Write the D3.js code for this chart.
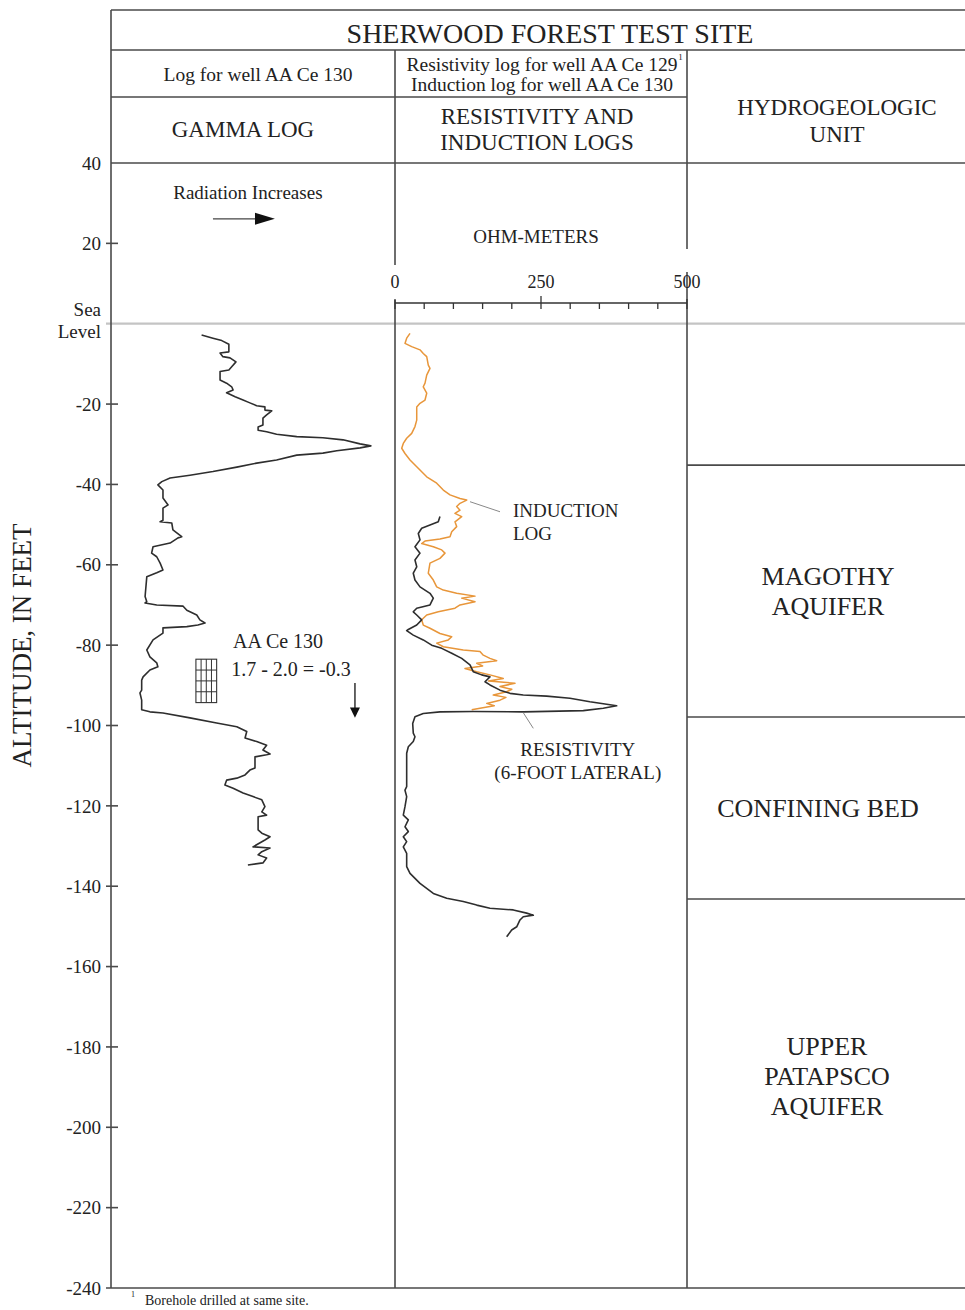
<!DOCTYPE html>
<html><head><meta charset="utf-8">
<script src="https://cdn.jsdelivr.net/npm/d3@7"></script>
<style>
body{margin:0;background:#fff}
svg{display:block}
text{font-family:"Liberation Serif","Times New Roman",serif;fill:#222}
</style>
</head><body>
<svg id="chart" width="965" height="1310"></svg>
<script>
// ---------------- DATA ----------------
const altTicks = [20,0,-20,-40,-60,-80,-100,-120,-140,-160,-180,-200,-220,-240];
const altTickLabels = ["20","Sea Level","-20","-40","-60","-80","-100","-120","-140","-160","-180","-200","-220","-240"];
const resTicks = [0,50,100,150,200,250,300,350,400,450,500];
const resTickLabels = [0,250,500];

// gamma log: [altitude (ft), relative radiation (0-100)]
const gammaAlt = [-2.8,-3.6,-4.2,-5.1,-7.0,-7.3,-8.2,-8.5,-9.5,-10.7,-11.5,-11.9,-14.0,-14.8,-15.7,-16.5,-17.2,-18.2,-19.0,-19.7,-20.4,-20.7,-21.5,-21.7,-22.7,-23.5,-25.2,-25.7,-26.5,-26.9,-27.5,-28.1,-28.4,-28.9,-29.9,-30.4,-30.9,-31.6,-32.2,-32.7,-33.9,-34.7,-35.7,-36.8,-37.7,-38.4,-39.3,-40.1,-41.4,-43.4,-45.1,-45.9,-48.9,-49.3,-49.6,-51.3,-53.0,-53.3,-54.6,-55.5,-57.1,-58.0,-59.6,-61.3,-62.0,-63.0,-67.9,-69.2,-69.5,-70.0,-70.3,-71.3,-72.5,-73.7,-74.5,-75.0,-75.4,-75.7,-77.0,-78.7,-81.2,-82.9,-84.4,-85.4,-86.2,-87.9,-88.7,-91.2,-91.9,-93.7,-96.1,-96.6,-96.9,-98.1,-99.4,-100.3,-101.5,-103.1,-104.0,-104.9,-106.1,-107.1,-107.3,-107.8,-110.6,-111.1,-112.3,-113.1,-113.6,-114.8,-115.6,-116.8,-117.7,-118.5,-120.2,-121.5,-122.3,-122.7,-126.0,-126.8,-127.7,-128.5,-130.2,-130.5,-131.4,-132.2,-133.0,-134.2,-134.7];
const gammaVal = [31.9,35.9,39.0,41.5,41.5,38.4,39.4,41.9,44.0,42.5,41.5,38.4,38.4,40.7,42.5,43.0,40.7,43.7,46.5,48.9,51.3,54.2,54.2,56.6,54.8,53.5,53.5,51.8,51.8,54.8,58.3,65.4,74.6,81.7,87.7,91.5,87.7,79.5,74.6,65.4,58.3,51.3,44.3,35.9,27.8,20.8,17.9,16.5,18.3,18.3,20.1,18.3,18.3,17.3,21.4,21.8,24.9,23.6,20.8,14.8,14.3,16.1,17.3,18.3,16.1,12.6,12.0,12.6,12.0,16.1,25.4,26.7,30.2,31.3,33.1,30.6,26.7,18.3,18.3,14.8,12.6,13.7,16.1,16.5,13.7,11.3,10.8,10.8,10.2,10.8,10.8,13.7,18.3,27.8,37.2,44.3,47.8,47.2,51.3,54.8,53.5,56.0,54.8,50.7,50.7,48.9,47.2,44.3,40.7,40.1,43.0,46.5,50.0,53.1,54.2,53.1,54.8,51.8,51.8,53.1,56.0,54.2,50.0,56.0,53.1,51.8,54.8,53.5,48.2];

// induction log (well AA Ce 130): altitude (ft), ohm-meters
const inductionAlt = [-2.4,-3.6,-4.9,-5.7,-6.5,-7.4,-8.2,-10.3,-11.1,-12.8,-14.8,-15.7,-17.3,-19.0,-19.8,-20.7,-24.0,-25.6,-27.3,-28.5,-29.8,-31.0,-32.3,-33.9,-35.6,-38.1,-39.7,-41.4,-42.6,-43.5,-43.9,-44.7,-45.5,-46.4,-47.2,-48.0,-49.3,-50.5,-51.8,-53.0,-53.6,-54.1,-54.7,-55.5,-56.3,-57.1,-58.4,-59.6,-62.1,-63.8,-65.5,-66.3,-67.1,-67.8,-68.3,-69.2,-70.0,-70.8,-71.7,-72.5,-73.7,-75.0,-75.8,-77.1,-77.9,-78.7,-79.5,-80.4,-81.2,-81.6,-82.5,-83.3,-83.9,-84.5,-85.2,-85.8,-86.6,-87.4,-88.3,-88.9,-89.5,-90.3,-91.0,-91.6,-92.4,-93.0,-93.7,-94.5,-95.1,-95.7,-96.1];
const inductionVal = [25.7,20.0,17.1,28.6,42.8,48.4,54.3,57.0,59.9,54.3,51.4,48.4,54.3,51.4,42.8,37.2,37.2,34.2,28.6,20.0,14.2,11.5,17.1,25.7,37.2,54.3,71.4,82.7,94.2,111.3,122.8,111.3,105.6,111.3,102.7,114.2,102.7,105.6,97.1,94.2,77.0,51.4,45.7,65.6,80.0,85.6,77.0,59.9,57.0,65.6,71.4,82.7,105.6,137.0,114.2,137.0,111.3,102.7,74.1,54.3,45.7,48.4,59.9,77.0,97.1,91.2,71.4,82.7,116.9,145.5,151.2,162.6,174.1,139.9,150.0,119.8,139.9,162.6,185.4,160.0,205.4,179.8,200.0,191.2,168.3,190.0,179.8,157.0,170.0,145.5,131.3];

// resistivity log, 6-foot lateral (well AA Ce 129): altitude (ft), ohm-meters
const resistivityAlt = [-48.0,-49.3,-50.1,-50.9,-52.2,-53.8,-55.5,-57.1,-58.8,-60.5,-62.1,-63.8,-65.5,-67.1,-68.3,-70.0,-70.8,-71.7,-72.5,-73.7,-75.0,-76.1,-76.4,-77.5,-78.7,-80.0,-80.8,-82.0,-83.3,-84.9,-86.6,-87.4,-87.9,-89.1,-89.9,-91.2,-92.0,-92.4,-92.7,-93.2,-94.1,-94.7,-95.1,-95.7,-96.3,-96.6,-96.5,-96.6,-97.0,-97.8,-99.5,-101.9,-102.8,-104.0,-105.3,-106.9,-115.2,-116.1,-117.7,-120.2,-122.3,-123.5,-125.2,-126.4,-127.7,-128.9,-130.2,-131.8,-135.1,-136.8,-139.3,-141.8,-143.0,-143.8,-144.7,-145.5,-145.9,-146.7,-147.2,-147.6,-148.4,-150.1,-150.9,-152.6];
const resistivityVal = [77.0,74.1,59.9,45.7,39.9,42.8,34.2,42.8,34.2,37.2,31.3,34.2,42.8,59.9,65.6,59.9,37.2,31.3,37.2,45.7,37.2,22.8,20.0,31.3,48.4,62.8,80.0,97.1,114.2,128.4,134.0,148.4,162.6,154.1,162.6,179.8,196.9,219.6,259.7,299.6,333.8,362.4,379.6,356.6,322.4,219.6,134.0,77.0,48.4,34.2,30.3,31.3,34.2,31.3,22.8,20.0,20.0,17.1,20.0,17.1,14.2,22.8,17.1,22.8,14.2,20.0,14.2,20.0,20.0,25.7,42.8,65.6,88.5,116.9,139.9,162.6,202.5,225.5,236.8,219.6,214.0,208.4,199.8,191.2];

// hydrogeologic units
const unitTop = [0,-35.2,-97.9,-143.2];
const unitBottom = [-35.2,-97.9,-143.2,-240];
const unitNames = [[],["MAGOTHY","AQUIFER"],["CONFINING BED"],["UPPER","PATAPSCO","AQUIFER"]];
const unitLabelAlt = [null,-66.5,-120.5,-187.3];

// ---------------- LAYOUT ----------------
const svg = d3.select("#chart");
const L = 111, M1 = 395, M2 = 687, R = 965;
const TOP = 10, ROW1 = 50, ROW2 = 97;
const lineCol = "#4a4a4a";
const unitLabelX = [null, 828, 818, 827];

const y = d3.scaleLinear().domain([40,-240]).range([163,1288]);
const gx = d3.scaleLinear().domain([0,100]).range([L,M1]);
const rx = d3.scaleLinear().domain([0,500]).range([M1,M2]);

function hline(x1,x2,yy,col,w){svg.append("line").attr("x1",x1).attr("x2",x2).attr("y1",yy).attr("y2",yy).attr("stroke",col||lineCol).attr("stroke-width",w||1.6);}
function vline(xx,y1,y2,col,w){svg.append("line").attr("x1",xx).attr("x2",xx).attr("y1",y1).attr("y2",y2).attr("stroke",col||lineCol).attr("stroke-width",w||1.6);}
function txt(x,yy,s,size,anchor){return svg.append("text").attr("x",x).attr("y",yy).attr("font-size",size).attr("text-anchor",anchor||"middle").text(s);}

// sea level line (gray)
hline(L-5, R, y(0), "#c4c4c4", 2.2);

// frame
hline(L, R, TOP);
hline(L, R, ROW1);
hline(L, M2, ROW2);
hline(L, R, y(40));
vline(L, TOP, y(-240));
vline(M1, ROW1, 265);
vline(M1, 300, y(-240));
vline(M2, ROW1, 249);
vline(M2, 272, y(-240));
hline(L-5, R, y(-240));

// unit boundaries
unitTop.slice(1).forEach(a => hline(M2, R, y(a)));

// altitude axis ticks + labels
altTicks.forEach((t,i) => {
  if (t !== 0 && t !== -240) hline(L-5, L+7, y(t));
  if (t === 0) {
    txt(101, y(0)-8, "Sea", 19, "end");
    txt(101, y(0)+14, "Level", 19, "end");
  } else {
    txt(101, y(t), altTickLabels[i], 19, "end").attr("dy","0.35em");
  }
});
txt(101, y(40), "40", 19, "end").attr("dy","0.35em");

// axis title
svg.append("text").attr("transform",`translate(31,${y(-100)+(-80)}) rotate(-90)`)
  .attr("font-size",27).attr("text-anchor","middle").text("ALTITUDE, IN FEET");

// header texts
txt((L+R)/2+12, 43, "SHERWOOD FOREST TEST SITE", 28);
txt((L+M1)/2+5, 81, "Log for well AA Ce 130", 19.5);
const r1 = txt(542, 71, "Resistivity log for well AA Ce 129", 19.5);
const bb = r1.node().getBBox();
txt(bb.x + bb.width + 3, 60, "1", 9, "middle");
txt(542, 91, "Induction log for well AA Ce 130", 19.5);
txt((L+M1)/2-10, 137, "GAMMA LOG", 23);
txt(537, 124, "RESISTIVITY AND", 23);
txt(537, 150, "INDUCTION LOGS", 23);
txt((M2+R)/2+11, 115, "HYDROGEOLOGIC", 23);
txt((M2+R)/2+11, 142, "UNIT", 23);

// radiation annotation
txt(gx(48.2), y(31.0), "Radiation Increases", 19);
svg.append("line").attr("x1",gx(35.9)).attr("x2",gx(52)).attr("y1",y(26.1)).attr("y2",y(26.1)).attr("stroke","#444").attr("stroke-width",1.3);
svg.append("path").attr("d",`M${gx(50.7)},${y(26.1)-6}L${gx(57.7)},${y(26.1)}L${gx(50.7)},${y(26.1)+6}Z`).attr("fill","#111");

// resistivity scale
txt(536, 243, "OHM-METERS", 19);
const axY = 303;
hline(rx(0), rx(500), axY, "#333", 1.5);
resTicks.forEach(t => {
  const major = resTickLabels.includes(t);
  const y1 = t===250 ? axY-7 : (major ? axY-4 : axY);
  svg.append("line").attr("x1",rx(t)).attr("x2",rx(t)).attr("y1",y1).attr("y2",axY+6).attr("stroke","#333").attr("stroke-width",1.3);
});
resTickLabels.forEach(t => txt(rx(t), 288, String(t), 18));

// hydrogeologic unit labels
unitNames.forEach((lines,i) => {
  if (!lines.length) return;
  const cy = y(unitLabelAlt[i]);
  const n = lines.length, lh = 30;
  lines.forEach((s,j) => txt(unitLabelX[i], cy + (j-(n-1)/2)*lh, s, 26).attr("dy","0.35em"));
});

// ---------------- LOG CURVES ----------------
const gamma = gammaAlt.map((a,i)=>[a,gammaVal[i]]);
const induction = inductionAlt.map((a,i)=>[a,inductionVal[i]]);
const resistivity = resistivityAlt.map((a,i)=>[a,resistivityVal[i]]);

svg.append("path").datum(gamma)
  .attr("d", d3.line().x(d=>gx(d[1])).y(d=>y(d[0])))
  .attr("fill","none").attr("stroke","#2e2e2e").attr("stroke-width",1.6).attr("stroke-linejoin","round");

svg.append("path").datum(induction)
  .attr("d", d3.line().x(d=>rx(d[1])).y(d=>y(d[0])))
  .attr("fill","none").attr("stroke","#E8963A").attr("stroke-width",1.5).attr("stroke-linejoin","round");

svg.append("path").datum(resistivity)
  .attr("d", d3.line().x(d=>rx(d[1])).y(d=>y(d[0])))
  .attr("fill","none").attr("stroke","#2e2e2e").attr("stroke-width",1.6).attr("stroke-linejoin","round");

// curve annotations
svg.append("line").attr("x1",rx(128.4)).attr("y1",y(-44.3)).attr("x2",rx(179.8)).attr("y2",y(-46.8)).attr("stroke","#888").attr("stroke-width",1);
txt(rx(202), y(-48.2), "INDUCTION", 19, "start");
txt(rx(202), y(-53.9), "LOG", 19, "start");
svg.append("line").attr("x1",rx(219.6)).attr("y1",y(-96.8)).attr("x2",rx(236.8)).attr("y2",y(-100.7)).attr("stroke","#888").attr("stroke-width",1);
txt(rx(313), y(-107.5), "RESISTIVITY", 19);
txt(rx(313), y(-113.2), "(6-FOOT LATERAL)", 19);

// gamma annotation
txt(gx(43.0), y(-80.6), "AA Ce 130", 20, "start");
txt(gx(42.3), y(-87.8), "1.7 - 2.0 = -0.3", 20, "start");
const gx0 = gx(29.9), gx1 = gx(37.2), gy0 = y(-83.5), gy1 = y(-94.3);
svg.append("rect").attr("x",gx0).attr("y",gy0).attr("width",gx1-gx0).attr("height",gy1-gy0).attr("fill","none").attr("stroke","#333").attr("stroke-width",1.1);
[1,2,3].forEach(k => {
  vline(gx0+(gx1-gx0)*k/4, gy0, gy1, "#333", 1);
  hline(gx0, gx1, gy0+(gy1-gy0)*k/4, "#333", 1);
});
const ax = gx(85.9);
svg.append("line").attr("x1",ax).attr("x2",ax).attr("y1",y(-89.4)).attr("y2",y(-96)).attr("stroke","#222").attr("stroke-width",1.4);
svg.append("path").attr("d",`M${ax-5},${y(-95.5)}L${ax},${y(-98.1)}L${ax+5},${y(-95.5)}Z`).attr("fill","#111");

// footnote
txt(133, 1297, "1", 8, "middle");
txt(145, 1305, "Borehole drilled at same site.", 14, "start");
</script>
</body></html>
